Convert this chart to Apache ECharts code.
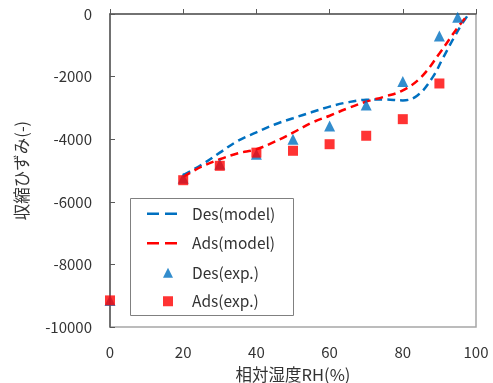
<!DOCTYPE html>
<html>
<head>
<meta charset="utf-8">
<script src="https://cdn.jsdelivr.net/npm/echarts@6/dist/echarts.min.js"></script>
<style>html,body{margin:0;padding:0;background:#fff;}#c{width:493px;height:383px;}</style>
</head>
<body>
<div id="c"></div>
<script>
var desModelRH = [20, 25, 30, 35, 40, 45, 50, 55, 60, 65, 70, 75, 80, 84, 88, 91, 94, 96, 98];
var desModelVal = [-5150, -4820, -4430, -4050, -3780, -3530, -3330, -3140, -2960, -2820, -2740, -2730, -2760, -2600, -2050, -1400, -750, -350, 0];
var adsModelRH = [20, 25, 30, 35, 40, 45, 50, 55, 60, 65, 70, 75, 80, 85, 90, 95, 98];
var adsModelVal = [-5200, -4880, -4640, -4450, -4320, -4080, -3790, -3480, -3250, -3010, -2800, -2640, -2440, -2020, -1260, -430, 0];
var desExpRH = [0, 20, 30, 40, 50, 60, 70, 80, 90, 95];
var desExpVal = [-9150, -5250, -4800, -4480, -4000, -3580, -2910, -2160, -700, -100];
var adsExpRH = [0, 20, 30, 40, 50, 60, 70, 80, 90];
var adsExpVal = [-9150, -5310, -4850, -4430, -4370, -4160, -3890, -3360, -2220];
var xTicks = [0, 20, 40, 60, 80, 100];
var yTicks = [-10000, -8000, -6000, -4000, -2000, 0];
var names = ['Des(model)', 'Ads(model)', 'Des(exp.)', 'Ads(exp.)'];
var xName = '相対湿度RH(%)';
var yName = '収縮ひずみ(-)';

function pairs(xs, ys) { return xs.map(function (x, i) { return [x, ys[i]]; }); }

var BLUE = '#0070C0', RED = '#FF0000';
var font = "'Noto Sans CJK JP', 'Noto Sans', sans-serif";
var dashIcon = 'path://M0,0h12v2.5h-12z M18,0h12v2.5h-12z';
var legendText = {fontSize: 15.5, color: '#333', fontFamily: font};
var chart = echarts.init(document.getElementById('c'), null, {renderer: 'canvas'});
chart.setOption({
  animation: false,
  backgroundColor: '#fff',
  textStyle: {fontFamily: font},
  grid: {left: 110, top: 14, right: 17, bottom: 56, show: true, borderColor: '#a6a6a6', borderWidth: 1.5,
         containLabel: false, outerBoundsMode: 'none'},
  graphic: [{
    type: 'rect', left: 130, top: 198, z: 0,
    shape: {width: 163, height: 117},
    style: {fill: '#fff', stroke: '#808080', lineWidth: 1}
  }],
  legend: [{
    orient: 'vertical', left: 147, top: 206, z: 5,
    data: [{name: names[0], icon: dashIcon}, {name: names[1], icon: dashIcon}],
    itemWidth: 30, itemHeight: 14, itemGap: 14, padding: 0,
    textStyle: Object.assign({padding: [0, 0, 0, 10]}, legendText)
  }, {
    orient: 'vertical', left: 163, top: 265, z: 5,
    data: [{name: names[2], icon: 'triangle'}, {name: names[3], icon: 'rect'}],
    itemWidth: 10, itemHeight: 10, itemGap: 13, padding: 0,
    textStyle: Object.assign({padding: [0, 0, 0, 14]}, legendText)
  }],
  xAxis: {
    type: 'value', min: xTicks[0], max: xTicks[xTicks.length - 1], interval: 20,
    name: xName, nameLocation: 'middle', nameGap: 39,
    nameTextStyle: {fontSize: 16.5, color: '#333', fontFamily: font},
    axisLine: {show: true, lineStyle: {color: '#595959', width: 1.5}},
    axisTick: {show: true, inside: true, length: 5, lineStyle: {color: '#595959'}},
    axisLabel: {fontSize: 15, color: '#333', margin: 18},
    splitLine: {show: false}
  },
  yAxis: {
    type: 'value', min: yTicks[0], max: yTicks[yTicks.length - 1], interval: 2000,
    name: yName, nameLocation: 'middle', nameGap: 80, nameRotate: 90,
    nameTextStyle: {fontSize: 16.5, color: '#333', fontFamily: font},
    axisLine: {show: true, lineStyle: {color: '#595959', width: 1.5}},
    axisTick: {show: true, inside: true, length: 5, lineStyle: {color: '#595959'}},
    axisLabel: {fontSize: 15, color: '#333', margin: 18, formatter: function (v) { return String(v); }},
    splitLine: {show: false}
  },
  series: [
    {name: names[0], type: 'line', smooth: 0.4, symbol: 'none', data: pairs(desModelRH, desModelVal),
     lineStyle: {color: BLUE, width: 2.5, type: [8, 5]}, itemStyle: {color: BLUE}, z: 2},
    {name: names[1], type: 'line', smooth: 0.4, symbol: 'none', data: pairs(adsModelRH, adsModelVal),
     lineStyle: {color: RED, width: 2.5, type: [8, 5]}, itemStyle: {color: RED}, z: 2},
    {name: names[2], type: 'scatter', symbol: 'triangle', symbolSize: 11, data: pairs(desExpRH, desExpVal),
     itemStyle: {color: BLUE}, z: 3},
    {name: names[3], type: 'scatter', symbol: 'rect', symbolSize: 10, data: pairs(adsExpRH, adsExpVal),
     itemStyle: {color: RED}, z: 4}
  ]
});
</script>
</body>
</html>
